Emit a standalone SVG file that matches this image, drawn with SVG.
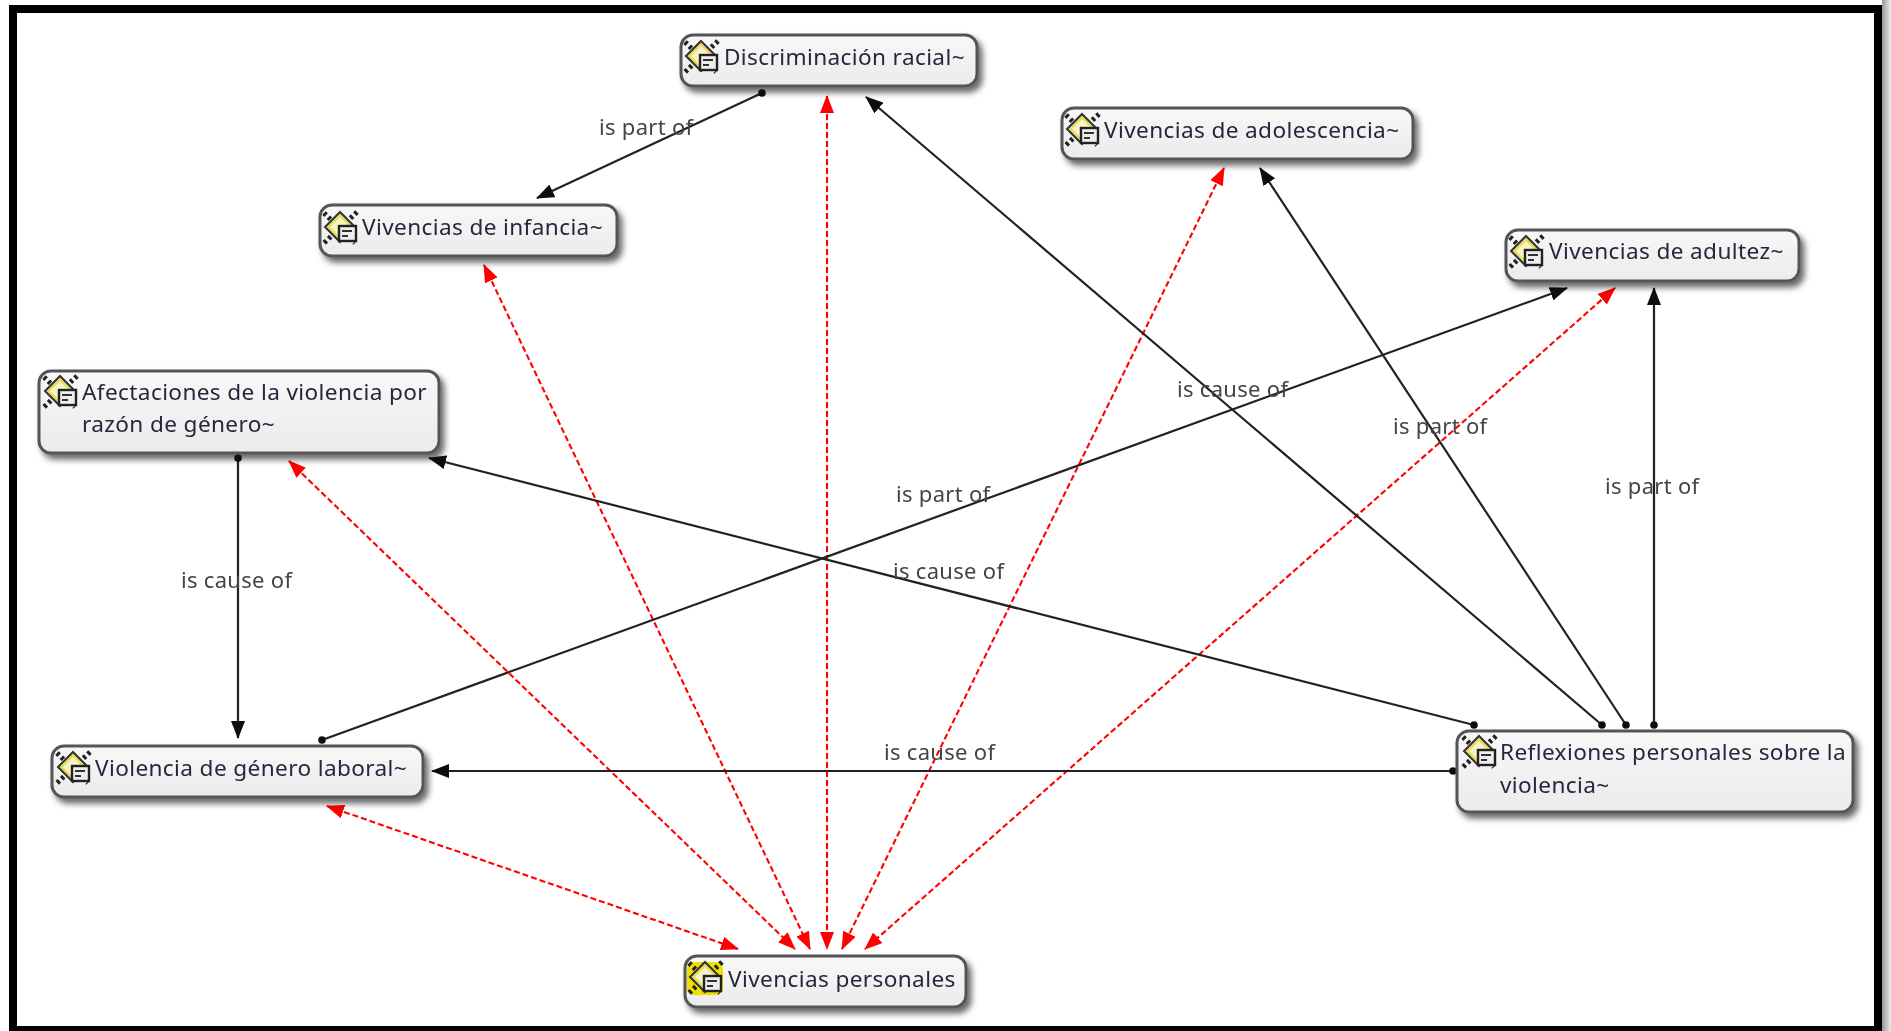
<svg xmlns="http://www.w3.org/2000/svg" width="1891" height="1031" viewBox="0 0 1891 1031">
<style>
.box{fill:url(#g);stroke:#555;stroke-width:3;filter:url(#s)}
.t{font:22.6px "Noto Sans","DejaVu Sans",sans-serif;letter-spacing:.38px;fill:#26263c}
.l{font:22px "Noto Sans","DejaVu Sans",sans-serif;letter-spacing:.3px;fill:#444}
.b{stroke:#222;stroke-width:2.2;fill:none;marker-end:url(#ab);marker-start:url(#dot)}
.r{stroke:#f00;stroke-width:2.1;fill:none;stroke-dasharray:6 3;marker-end:url(#ar);marker-start:url(#ars)}
</style>
<defs>
<linearGradient id="g" x1="0" y1="0" x2="0" y2="1"><stop offset="0" stop-color="#f8f8f8"/><stop offset="1" stop-color="#ebebeb"/></linearGradient>
<linearGradient id="edge" x1="0" y1="0" x2="1" y2="0"><stop offset="0" stop-color="#999"/><stop offset="1" stop-color="#eee"/></linearGradient>
<filter id="s" x="-10%" y="-30%" width="125%" height="170%"><feDropShadow dx="4" dy="5" stdDeviation="3" flood-color="#000" flood-opacity=".6"/></filter>
<filter id="soft" filterUnits="userSpaceOnUse" x="0" y="0" width="1891" height="1031"><feGaussianBlur stdDeviation=".55"/></filter>
<marker id="ab" markerUnits="userSpaceOnUse" markerWidth="18" markerHeight="14" refX="17" refY="7" orient="auto"><path d="M0 0L18 7L0 14z" fill="#111"/></marker>
<marker id="dot" markerUnits="userSpaceOnUse" markerWidth="10" markerHeight="10" refX="5" refY="5"><circle cx="5" cy="5" r="3.8" fill="#111"/></marker>
<marker id="ar" markerUnits="userSpaceOnUse" markerWidth="18" markerHeight="14" refX="17" refY="7" orient="auto"><path d="M0 0L18 7L0 14z" fill="#f00"/></marker>
<marker id="ars" markerUnits="userSpaceOnUse" markerWidth="18" markerHeight="14" refX="1" refY="7" orient="auto"><path d="M18 0L0 7L18 14z" fill="#f00"/></marker>
<g id="i">
<path d="M-3 -14L28 16M30 -15L-3 16" stroke="#222" stroke-width="5" stroke-dasharray="3 3" fill="none"/>
<path d="M13 -15L28 0L13 15L-2 0z" fill="#e6dc62" stroke="#333" stroke-width="2"/>
<path d="M13 -10L23 0L13 10L3 0z" fill="#f7f3c4"/>
<rect x="12" y="-1" width="17" height="15" fill="#eee" stroke="#222" stroke-width="2.4"/>
<path d="M15 4h10M15 9h6" stroke="#333" stroke-width="2"/>
</g>
<g id="iy">
<rect x="-5" y="-15" width="36" height="33" rx="7" fill="#efe000"/>
<use href="#i"/>
</g>
</defs>
<rect width="1891" height="1031" fill="#fff"/>
<g filter="url(#soft)">
<rect x="1882" y="0" width="9" height="1031" fill="url(#edge)"/>
<rect x="13" y="9" width="1865" height="1021" fill="none" stroke="#000" stroke-width="8"/>
<g id="connectors">
<path class="r" d="M827 96V949"/>
<path class="r" d="M484 265L810 949"/>
<path class="r" d="M1224 168L842 949"/>
<path class="r" d="M1615 288L865 949"/>
<path class="r" d="M289 461L795 949"/>
<path class="r" d="M327 806L738 949"/>
<path class="b" d="M762 93L537 198"/>
<path class="b" d="M1602 725L866 97"/>
<path class="b" d="M1626 725L1260 168"/>
<path class="b" d="M1654 725V288"/>
<path class="b" d="M1474 725L429 458"/>
<path class="b" d="M1453 771H432"/>
<path class="b" d="M322 740L1567 288"/>
<path class="b" d="M238 458V738"/>
<text class="l" x="599" y="135">is part of</text>
<text class="l" x="1177" y="397">is cause of</text>
<text class="l" x="1393" y="434">is part of</text>
<text class="l" x="1605" y="494">is part of</text>
<text class="l" x="896" y="502">is part of</text>
<text class="l" x="893" y="579">is cause of</text>
<text class="l" x="181" y="588">is cause of</text>
<text class="l" x="884" y="760">is cause of</text>
</g>
<g id="n1"><rect class="box" x="681" y="35" width="296" height="51" rx="12"/><use href="#i" x="688" y="56"/><text class="t" x="724" y="65">Discriminación racial~</text></g>
<g id="n2"><rect class="box" x="1062" y="108" width="351" height="51" rx="12"/><use href="#i" x="1069" y="129"/><text class="t" x="1104" y="138">Vivencias de adolescencia~</text></g>
<g id="n3"><rect class="box" x="320" y="205" width="297" height="51" rx="12"/><use href="#i" x="327" y="227"/><text class="t" x="362" y="235">Vivencias de infancia~</text></g>
<g id="n4"><rect class="box" x="1506" y="230" width="293" height="51" rx="12"/><use href="#i" x="1513" y="251"/><text class="t" x="1549" y="259">Vivencias de adultez~</text></g>
<g id="n5"><rect class="box" x="39" y="371" width="400" height="82" rx="12"/><use href="#i" x="47" y="391"/><text class="t" x="82" y="400">Afectaciones de la violencia por</text><text class="t" x="82" y="432">razón de género~</text></g>
<g id="n6"><rect class="box" x="52" y="746" width="371" height="51" rx="12"/><use href="#i" x="60" y="767"/><text class="t" x="95" y="776">Violencia de género laboral~</text></g>
<g id="n7"><rect class="box" x="1457" y="731" width="396" height="81" rx="12"/><use href="#i" x="1466" y="751"/><text class="t" x="1500" y="760">Reflexiones personales sobre la</text><text class="t" x="1500" y="793">violencia~</text></g>
<g id="n8"><rect class="box" x="685" y="956" width="281" height="51" rx="12"/><use href="#iy" x="692" y="977"/><text class="t" x="728" y="987">Vivencias personales</text></g>
</g>
</svg>
